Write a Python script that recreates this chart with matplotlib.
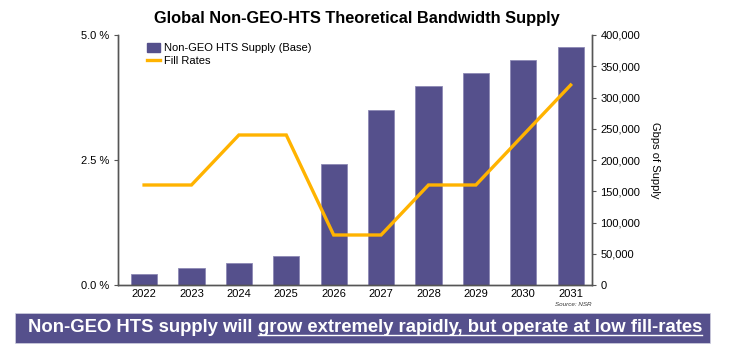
import matplotlib
matplotlib.use("Agg")
import matplotlib.pyplot as plt
from matplotlib.patches import Patch, Rectangle
from matplotlib.lines import Line2D
from matplotlib.ticker import FuncFormatter

plt.rcParams['font.family'] = ['Liberation Sans', 'DejaVu Sans']

years = ["2022", "2023", "2024", "2025", "2026", "2027", "2028", "2029", "2030", "2031"]
supply_gbps = [17000, 28000, 35000, 46000, 193000, 280000, 319000, 339000, 360000, 381000]
fill_rates = [2.0, 2.0, 3.0, 3.0, 1.0, 1.0, 2.0, 2.0, 3.0, 4.0]

title = "Global Non-GEO-HTS Theoretical Bandwidth Supply"
bar_label = "Non-GEO HTS Supply (Base)"
line_label = "Fill Rates"
right_label = "Gbps of Supply"
source = "Source: NSR"
banner_plain = "Non-GEO HTS supply will "
banner_under = "grow extremely rapidly, but operate at low fill-rates"

purple = "#55508c"
orange = "#ffb300"
spine_c = "#555555"

fig = plt.figure(figsize=(7.3, 3.54), dpi=100)
ax = fig.add_axes([118/730, 1-285/354, (592-118)/730, (285-35)/354])
ax2 = ax.twinx()
ax.set_zorder(ax2.get_zorder() + 1)
ax.patch.set_visible(False)

x = list(range(len(years)))
ax2.bar(x, supply_gbps, width=0.55, color=purple, edgecolor="#8d89b5", linewidth=0.6)
ax.plot(x, fill_rates, color=orange, linewidth=2.4, solid_joinstyle='miter')

ax.set_xlim(-0.55, 9.45)
ax.set_ylim(0, 5.0)
ax2.set_ylim(0, 400000)
ax.set_yticks([0, 2.5, 5.0])
ax.yaxis.set_major_formatter(FuncFormatter(lambda v, p: f"{v:.1f} %"))
ax2.set_yticks(range(0, 400001, 50000))
ax2.yaxis.set_major_formatter(FuncFormatter(lambda v, p: f"{int(v):,}"))
ax.set_xticks(x)
ax.set_xticklabels(years)

for a in (ax, ax2):
    a.spines['top'].set_visible(False)
    for s in ('left', 'right', 'bottom'):
        a.spines[s].set_color(spine_c)
        a.spines[s].set_linewidth(1.0)
    a.tick_params(axis='y', labelsize=8, length=3, color=spine_c, width=0.8, pad=3)
ax.tick_params(axis='x', length=0, labelsize=8, pad=3)

ax2.set_ylabel(right_label, rotation=-90, fontsize=8, labelpad=14)

handles = [Patch(facecolor=purple, edgecolor=purple), Line2D([0], [0], color=orange, lw=2.4)]
ax.legend(handles, [bar_label, line_label], loc='upper left', bbox_to_anchor=(0.045, 1.0),
          frameon=False, fontsize=8, handlelength=1.2, handleheight=0.9, handletextpad=0.3,
          labelspacing=0.2, borderpad=0.2)

fig.text(357/730, 1-18/354, title, ha='center', va='center', fontsize=11.8, fontweight='bold')
fig.text(573/730, 1-304/354, source, ha='center', va='center', fontsize=4.5, style='italic', color='#333333')

# banner
fig.patches.append(Rectangle((15/730, 1-343/354), (710-15)/730, 30/354, transform=fig.transFigure,
                             facecolor=purple, edgecolor='#d0d0e0', linewidth=0.5))
ty = 1-328/354
fs = 13.3
t1 = fig.text(28/730, ty, banner_plain, ha='left', va='center', fontsize=fs, fontweight='bold', color='white')
fig.canvas.draw()
r = fig.canvas.get_renderer()
bb1 = t1.get_window_extent(r)
x2 = bb1.x1 / fig.bbox.width
t2 = fig.text(x2, ty, banner_under, ha='left', va='center', fontsize=fs, fontweight='bold', color='white')
fig.canvas.draw()
bb2 = t2.get_window_extent(r)
uy = (bb2.y0 + 1.5) / fig.bbox.height
fig.add_artist(Line2D([bb2.x0 / fig.bbox.width, bb2.x1 / fig.bbox.width], [uy, uy],
                      transform=fig.transFigure, color='white', linewidth=1.0))

fig.savefig("out.png", dpi=100)
